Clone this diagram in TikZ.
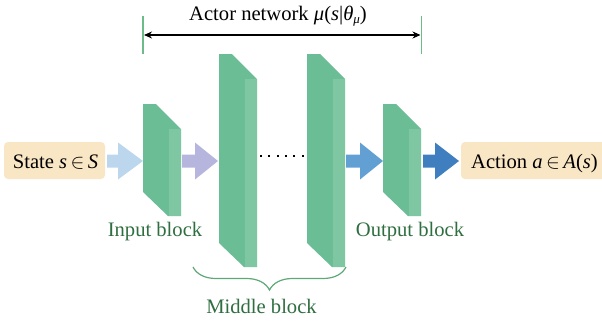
\documentclass[tikz,border=0pt]{standalone}
\usepackage{fontspec}
\setmainfont{Liberation Serif}
\usetikzlibrary{arrows.meta,decorations.pathreplacing}
\definecolor{blockdark}{HTML}{6ABD95}
\definecolor{blocklight}{HTML}{7FC6A3}
\definecolor{boxfill}{HTML}{F9E6C4}
\definecolor{labgreen}{HTML}{2F6E40}
\definecolor{tickgreen}{HTML}{6DBB8A}
\definecolor{bracegreen}{HTML}{5FA878}
\definecolor{arrA}{HTML}{BCD6EE}
\definecolor{arrB}{HTML}{B5B5DD}
\definecolor{arrC}{HTML}{62A0D4}
\definecolor{arrD}{HTML}{3F7FBF}
\tikzset{
  big/.style={font=\fontsize{20.6}{24}\selectfont},
  lab/.style={big,text=labgreen,anchor=base,inner sep=0pt},
  iobox/.style={fill=boxfill,rounded corners=4pt},
}
% slab: #1 x-left, #2 top, #3 bottom, #4 name
\newcommand{\myslab}[4]{%
  \fill[blockdark] (#1,#2) -- (#1+13,#2) -- (#1+38,#2+25) -- (#1+38,#3) -- (#1+25,#3) -- (#1,#3-24) -- cycle;
  \fill[blocklight] (#1+26,#2+25) rectangle (#1+38,#3);
  \coordinate (#4) at (#1+19,{(#2+#3)/2});
}
% fat arrow: #1 start, #2 shaft end, #3 tip, #4 colour
\newcommand{\myfat}[4]{%
  \fill[#4] (#1,154.5) -- (#2,154.5) -- (#2,142.5) -- (#3,161) -- (#2,179.5) -- (#2,167.5) -- (#1,167.5) -- cycle;
}
\newcommand{\mysub}[1]{\raisebox{-0.35ex}{\fontsize{13}{14}\selectfont #1}}
\begin{document}
\begin{tikzpicture}[x=1pt,y=-1pt]
\useasboundingbox (0,0) rectangle (602,322);
% I/O boxes
\fill[iobox] (4,142) rectangle (105,179);
\node[big,anchor=base,inner sep=0pt] (state) at (55.5,168.5) {State \textit{s}\,$\in$\,\textit{S}};
\fill[iobox] (461,142) rectangle (620,179);
\node[big,anchor=base,inner sep=0pt] (action) at (534.5,168.5) {Action \textit{a}\,$\in$\,\textit{A}(\textit{s})};
% blocks
\myslab{143}{104}{216}{inblk}
\myslab{219}{54}{267}{midA}
\myslab{307}{54}{267}{midB}
\myslab{383}{104}{216}{outblk}
% fat arrows
\myfat{107}{118}{143}{arrA}
\myfat{182}{195}{218}{arrB}
\myfat{346}{360}{383}{arrC}
\myfat{423}{435}{459}{arrD}
% dots
\foreach \i in {0,...,5} \fill (260.7+8.4*\i-1,155.3) rectangle ++(2,2);
% labels
\node[lab] (inlab) at (155,236) {Input block};
\node[lab] (outlab) at (410,236) {Output block};
\node[lab] (midlab) at (261.5,313) {Middle block};
% brace
\draw[bracegreen,line width=1.2pt,decorate,decoration={brace,mirror,amplitude=23pt}] (193,267) -- (346,267);
% actor network span
\coordinate (tl1) at (143,16); \coordinate (tl2) at (143,54);
\coordinate (tr1) at (421.5,16); \coordinate (tr2) at (421.5,54);
\draw[tickgreen,line width=1.5pt] (tl1) -- (tl2);
\draw[tickgreen,line width=1.5pt] (tr1) -- (tr2);
\coordinate (al) at (144,35); \coordinate (ar) at (420.5,35);
\draw[line width=1.2pt,{Stealth[length=8pt,width=7pt]}-{Stealth[length=8pt,width=7pt]}] (al) -- (ar);
\node[big,anchor=base,inner sep=0pt] (title) at (278,20) {Actor network \textit{μ}(\textit{s}|\textit{θ}\mysub{\textit{μ}})};
\end{tikzpicture}
\end{document}
